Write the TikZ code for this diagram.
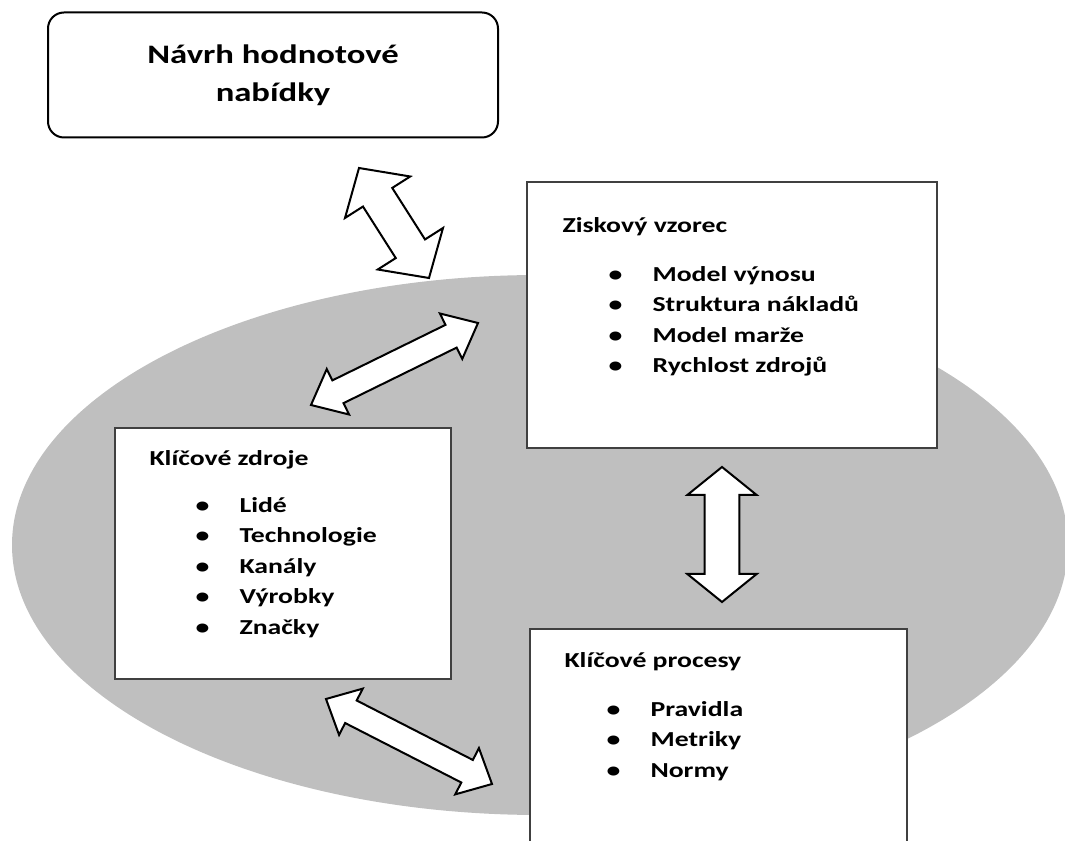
\documentclass[tikz,border=0pt]{standalone}
\usepackage{fontspec}
\newfontfamily\diagfont{Carlito}[FakeStretch=1.3]
\usetikzlibrary{shapes.geometric, positioning, calc}

\tikzstyle{backdrop} = [ellipse, fill=black!25, minimum width=792pt, minimum height=405pt]
\tikzstyle{valuebox} = [rectangle, rounded corners=12pt, draw=black, line width=1.5pt, fill=white, minimum width=337.5pt, minimum height=93.75pt, align=center, font=\diagfont\bfseries\fontsize{20}{28.5}\selectfont]
\tikzstyle{panel} = [rectangle, draw=black!75, line width=1.1pt, fill=white, inner sep=0pt]
\tikzstyle{heading} = [anchor=base west, inner sep=0pt, font=\diagfont\bfseries\fontsize{16}{22.9}\selectfont]
\tikzstyle{blockarrow} = [draw=black, line width=1.5pt, fill=white, line join=miter]

\newcommand{\bul}{\makebox[33pt][l]{\textbullet}}
% double block arrow: from, to, head length, head half width, shaft half width
\newcommand{\dblarrow}[5]{%
  \draw[blockarrow] let \p1=(#1), \p2=(#2), \n1={atan2(\y2-\y1,\x2-\x1)} in
    (\p1) -- ($(\p1)+(\n1:#3)+(\n1+90:#4)$) -- ($(\p1)+(\n1:#3)+(\n1+90:#5)$)
    -- ($(\p2)+(\n1+180:#3)+(\n1+90:#5)$) -- ($(\p2)+(\n1+180:#3)+(\n1+90:#4)$)
    -- (\p2) -- ($(\p2)+(\n1+180:#3)+(\n1-90:#4)$) -- ($(\p2)+(\n1+180:#3)+(\n1-90:#5)$)
    -- ($(\p1)+(\n1:#3)+(\n1-90:#5)$) -- ($(\p1)+(\n1:#3)+(\n1-90:#4)$) -- cycle;}

\begin{document}
\begin{tikzpicture}[x=0.75pt, y=-0.75pt]

\useasboundingbox (0,0) rectangle (1065,841);
\clip (0,0) rectangle (1065,841);

% Background
\node (core) [backdrop] at (540,545) {};

% Value proposition
\node (value-prop) [valuebox] at (273,75) {Návrh hodnotové\\nabídky};

% Profit formula
\node (profit) [panel, minimum width=307.5pt, minimum height=199.5pt] at (732,315) {};
\node (profit-title) [heading] at ($(profit.north west)+(36,51)$) {Ziskový vzorec};
\node (profit-list) [heading] at ($(profit.north west)+(82,100)$) {\begin{tabular}[t]{@{}l@{}}
\bul Model výnosu\\ \bul Struktura nákladů\\ \bul Model marže\\ \bul Rychlost zdrojů
\end{tabular}};

% Key resources
\node (resources) [panel, minimum width=252pt, minimum height=188.25pt] at (283,553.5) {};
\node (resources-title) [heading] at ($(resources.north west)+(35,38)$) {Klíčové zdroje};
\node (resources-list) [heading] at ($(resources.north west)+(81,85)$) {\begin{tabular}[t]{@{}l@{}}
\bul Lidé\\ \bul Technologie\\ \bul Kanály\\ \bul Výrobky\\ \bul Značky
\end{tabular}};

% Key processes
\node (processes) [panel, minimum width=282.75pt, minimum height=195pt] at (718.5,759) {};
\node (processes-title) [heading] at ($(processes.north west)+(35,39)$) {Klíčové procesy};
\node (processes-list) [heading] at ($(processes.north west)+(77,88)$) {\begin{tabular}[t]{@{}l@{}}
\bul Pravidla\\ \bul Metriky\\ \bul Normy
\end{tabular}};

% Arrows
\coordinate (vp-end) at (359,168);
\coordinate (core-end) at (429,278);
\coordinate (res-end) at (311,405);
\coordinate (prof-end) at (478,323);
\coordinate (prof-low) at (722,467);
\coordinate (proc-top) at (722,602);
\coordinate (res-low) at (326,699);
\coordinate (proc-left) at (492,784);

\dblarrow{vp-end}{core-end}{26pt}{29pt}{13pt}
\dblarrow{res-end}{prof-end}{22.5pt}{19pt}{9.5pt}
\dblarrow{prof-low}{proc-top}{21pt}{26pt}{13pt}
\dblarrow{res-low}{proc-left}{21pt}{19.5pt}{9.5pt}

\end{tikzpicture}
\end{document}
